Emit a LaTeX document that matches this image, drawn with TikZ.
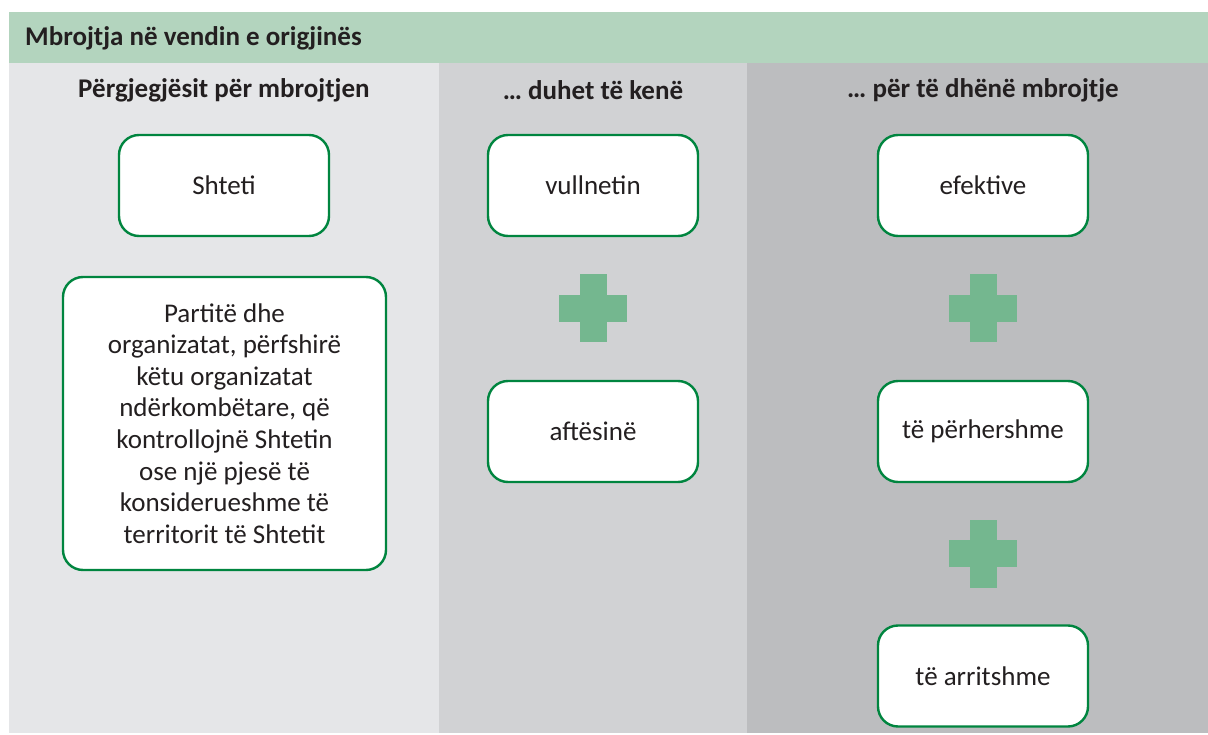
\documentclass[tikz,border=0pt]{standalone}
\usepackage{fontspec}
\setmainfont{Carlito}
\definecolor{hdrgreen}{HTML}{B3D4BE}
\definecolor{colA}{HTML}{E5E6E8}
\definecolor{colB}{HTML}{D1D2D4}
\definecolor{colC}{HTML}{BCBDBF}
\definecolor{plusgreen}{HTML}{74B78F}
\definecolor{edgegreen}{HTML}{00853F}
\definecolor{ink}{HTML}{231F20}
\tikzset{
  card/.style={draw=edgegreen, line width=2.4pt, fill=white, rounded corners=20pt,
    minimum width=210pt, minimum height=101pt, align=center, text=ink,
    font=\fontsize{27}{31.6}\selectfont, inner sep=0pt},
  colhead/.style={font=\fontsize{27}{30}\selectfont\bfseries, text=ink, inner sep=0pt},
  plusbar/.style={fill=plusgreen, draw=none},
}
\newcommand{\plussign}[2]{%
  \fill[plusbar] (#1-13.5,#2-34) rectangle (#1+13.5,#2+34);
  \fill[plusbar] (#1-34,#2-13.5) rectangle (#1+34,#2+13.5);}
\begin{document}
\begin{tikzpicture}[x=1pt,y=-1pt]
  \useasboundingbox[fill=white] (0,0) rectangle (1208,735);
  % column backgrounds
  \fill[colA] (9,63) rectangle (439,733);
  \fill[colB] (439,63) rectangle (747,733);
  \fill[colC] (747,63) rectangle (1208,733);
  % title band
  \fill[hdrgreen] (9,12) rectangle (1208,63);
  \node[anchor=west, font=\fontsize{27}{30}\selectfont\bfseries, text=ink, inner sep=0pt]
    (title) at (25,38) {Mbrojtja në vendin e origjinës};
  % column headings
  \node[colhead] (hA) at (224,90) {Përgjegjësit për mbrojtjen};
  \node[colhead] (hB) at (593,90) {… duhet të kenë};
  \node[colhead] (hC) at (983,90) {… për të dhënë mbrojtje};
  % first column
  \node[card] (shteti) at (224,185.5) {Shteti};
  \node[card, minimum width=323pt, minimum height=293pt] (parti) at (224.5,423.5)
    {Partitë dhe\\organizatat, përfshirë\\këtu organizatat\\ndërkombëtare, që\\kontrollojnë Shtetin\\ose një pjesë të\\konsiderueshme të\\territorit të Shtetit};
  % second column
  \node[card] (vull) at (593,185.5) {vullnetin};
  \node[card] (aft) at (593,431.5) {aftësinë};
  \plussign{593}{308.5}
  % third column
  \node[card] (efek) at (983,185.5) {efektive};
  \node[card] (perh) at (983,431.5) {të përhershme};
  \node[card] (arr) at (983,676) {të arritshme};
  \plussign{983}{308.5}
  \plussign{983}{553.5}
\end{tikzpicture}
\end{document}
